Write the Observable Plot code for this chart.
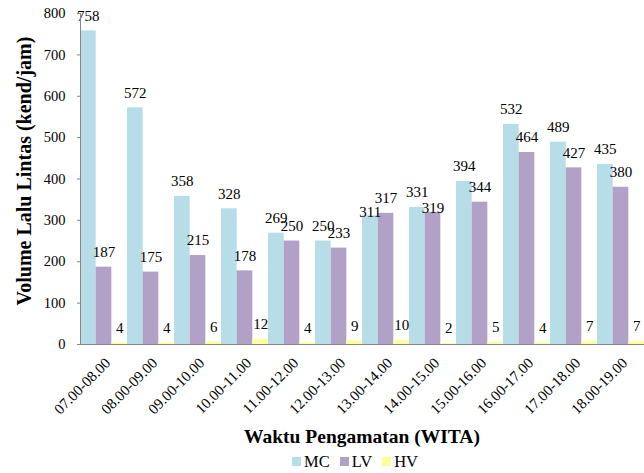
<!DOCTYPE html>
<html>
<head>
<meta charset="utf-8">
<script src="https://cdn.jsdelivr.net/npm/d3@7"></script>
<script src="https://cdn.jsdelivr.net/npm/@observablehq/plot@0.6"></script>
<style>
  html, body { margin: 0; padding: 0; background: #fff; }
  #wrap { width: 644px; height: 473px; position: relative; font-family: "Liberation Serif", "Times New Roman", serif; }
  #chart svg, #chart svg text { font-family: "Liberation Serif", "Times New Roman", serif !important; }
  #xtitle { position: absolute; left: 80px; width: 564px; top: 424px; height: 26px; line-height: 26px; text-align: center; font-weight: bold; font-size: 19.5px; color: #000; }
  #legend { position: absolute; left: 73px; width: 564px; top: 450px; height: 23px; display: flex; justify-content: center; align-items: center; gap: 10px; font-size: 16.5px; color: #000; }
  #legend .item { display: flex; align-items: center; gap: 3px; }
  #legend .sw { width: 9px; height: 9px; display: inline-block; }
</style>
</head>
<body>
<div id="wrap">
  <div id="chart"></div>
  <div id="xtitle"></div>
  <div id="legend"></div>
</div>
<script>
const times = ["07.00-08.00","08.00-09.00","09.00-10.00","10.00-11.00","11.00-12.00","12.00-13.00","13.00-14.00","14.00-15.00","15.00-16.00","16.00-17.00","17.00-18.00","18.00-19.00"];
const mc = [758, 572, 358, 328, 269, 250, 311, 331, 394, 532, 489, 435];
const lv = [187, 175, 215, 178, 250, 233, 317, 319, 344, 464, 427, 380];
const hv = [4, 4, 6, 12, 4, 9, 10, 2, 5, 4, 7, 7];
const seriesNames = ["MC", "LV", "HV"];
const seriesColors = ["#B7DDE8", "#B2A1C7", "#FFFF99"];
const yTicks = [0, 100, 200, 300, 400, 500, 600, 700, 800];
const yTitle = "Volume Lalu Lintas (kend/jam)";
const xTitle = "Waktu Pengamatan (WITA)";

const seriesValues = [mc, lv, hv];
const rows = [];
seriesNames.forEach((s, si) => times.forEach((t, i) => {
  const v = seriesValues[si][i];
  // when MC and LV are nearly equal, the lower label sits closer to its bar (as in the reference)
  let lowered = false;
  if (si < 2) {
    const other = seriesValues[1 - si][i];
    lowered = Math.abs(v - other) < 15 && v < other;
  }
  rows.push({t, s, si, v, lowered});
}));

const W = 644, H = 424, ML = 80, MR = 0, MT = 13, MB = 80;
const bw = (W - ML - MR) / times.length;
const sub = bw / 3;
const font = "Liberation Serif";

const marks = [];
seriesNames.forEach((s, si) => {
  const d = rows.filter(r => r.s === s);
  marks.push(Plot.barY(d, {
    x: "t", y: "v", fill: seriesColors[si],
    insetLeft: si * sub, insetRight: (2 - si) * sub
  }));
});
seriesNames.forEach((s, si) => {
  const d = rows.filter(r => r.s === s);
  marks.push(Plot.text(d.filter(r => !r.lowered), {
    x: "t", y: "v", text: r => String(r.v),
    dx: (si - 1) * sub, dy: -15, fontSize: 15, fill: "#000"
  }));
  marks.push(Plot.text(d.filter(r => r.lowered), {
    x: "t", y: "v", text: r => String(r.v),
    dx: (si - 1) * sub, dy: -4, fontSize: 15, fill: "#000"
  }));
});
marks.push(Plot.ruleY([0], {stroke: "#868686", strokeWidth: 1}));
marks.push(Plot.frame({anchor: "left", stroke: "#868686"}));
marks.push(Plot.axisY({ticks: yTicks, tickSize: 3, tickPadding: 12, fontSize: 14.5, label: null, stroke: "#868686", color: "#000"}));
marks.push(Plot.axisX({tickRotate: -45, tickSize: 0, tickPadding: 16, dx: 4, fontSize: 15, label: null}));
marks.push(Plot.text([yTitle], {frameAnchor: "left", textAnchor: "middle", rotate: -90, dx: -56, dy: -8, fontSize: 20, fontWeight: "bold", fill: "#000", text: d => d}));

const chart = Plot.plot({
  width: W, height: H,
  marginLeft: ML, marginRight: MR, marginTop: MT, marginBottom: MB,
  style: {fontFamily: font, color: "#000", background: "#fff"},
  x: {domain: times, padding: 0, label: null, axis: null},
  y: {domain: [0, 800], label: null, axis: null},
  marks
});
document.getElementById("chart").appendChild(chart);
document.getElementById("xtitle").textContent = xTitle;
const leg = document.getElementById("legend");
seriesNames.forEach((s, si) => {
  const it = document.createElement("div"); it.className = "item";
  const sw = document.createElement("span"); sw.className = "sw"; sw.style.background = seriesColors[si];
  const tx = document.createElement("span"); tx.textContent = s;
  it.appendChild(sw); it.appendChild(tx); leg.appendChild(it);
});
</script>
</body>
</html>
